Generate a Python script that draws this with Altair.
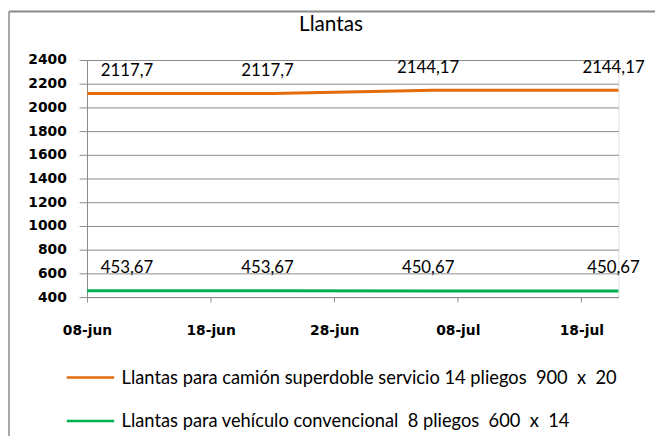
import altair as alt
import pandas as pd

# ---- data ----
fechas = ["2012-06-08T00:00", "2012-06-23T00:00", "2012-07-06T00:00", "2012-07-21T00:00"]
serie_camion = [2117.7, 2117.7, 2144.17, 2144.17]
serie_vehiculo = [453.67, 453.67, 450.67, 450.67]
etiquetas_camion = ["2117,7", "2117,7", "2144,17", "2144,17"]
etiquetas_vehiculo = ["453,67", "453,67", "450,67", "450,67"]
nombres = [
    "Llantas para camión superdoble servicio 14 pliegos\u00a0 900\u00a0 x\u00a0 20",
    "Llantas para vehículo convencional\u00a0 8 pliegos\u00a0 600\u00a0 x\u00a0 14",
]
colores = ["#E46C0A", "#00B050"]
y_ticks = [400, 600, 800, 1000, 1200, 1400, 1600, 1800, 2000, 2200, 2400]
x_ticks = [(2012, 6, 8), (2012, 6, 18), (2012, 6, 28), (2012, 7, 8), (2012, 7, 18)]
x_dominio = [(2012, 6, 8), (2012, 7, 21)]
titulo = "Llantas"

rows = []
for nombre, valores, etiquetas in [
    (nombres[0], serie_camion, etiquetas_camion),
    (nombres[1], serie_vehiculo, etiquetas_vehiculo),
]:
    for i, (f, v, e) in enumerate(zip(fechas, valores, etiquetas)):
        rows.append({"fecha": f, "valor": v, "etiqueta": e, "serie": nombre, "orden": i})
df = pd.DataFrame(rows)


def dt(t):
    return alt.DateTime(year=t[0], month=t[1], date=t[2])


GRIS = "#8a8a8a"
label_expr = ("timeFormat(datum.value, '%d') + '-' + "
              "['ene','feb','mar','abr','may','jun','jul','ago','sep','oct','nov','dic'][month(datum.value)]")

x_axis = alt.Axis(
    values=[dt(t) for t in x_ticks], labelExpr=label_expr, title=None, grid=False,
    domainColor=GRIS, tickColor=GRIS, tickSize=5, labelPadding=22, labelOverlap=False,
    labelFlush=False,
    labelFont="DejaVu Sans", labelFontSize=14, labelFontWeight="bold", labelColor="#000000",
)
y_axis = alt.Axis(
    values=y_ticks, format="d", title=None, grid=True, gridColor=GRIS, domainColor=GRIS,
    tickColor=GRIS, tickSize=8, labelPadding=13, labelOverlap=False,
    labelFont="DejaVu Sans", labelFontSize=14, labelFontWeight="bold", labelColor="#000000",
)
x_enc = alt.X("fecha:T", scale=alt.Scale(domain=[dt(t) for t in x_dominio]), axis=x_axis)
y_enc = alt.Y("valor:Q", scale=alt.Scale(domain=[400, 2400], nice=False), axis=y_axis)
color_enc = alt.Color(
    "serie:N",
    scale=alt.Scale(domain=nombres, range=colores),
    legend=alt.Legend(
        title=None, orient="none", legendX=-22, legendY=296, direction="vertical",
        symbolType="stroke", symbolSize=2304, symbolStrokeWidth=2.5, labelOffset=6,
        labelFont="Lato", labelFontSize=18.5, labelColor="#000000", labelLimit=0, rowPadding=9,
    ),
)

base = alt.Chart(df)
lineas = base.mark_line(strokeWidth=3, strokeCap="butt").encode(x=x_enc, y=y_enc, color=color_enc)

txt_style = dict(font="Lato", fontSize=17, color="#000000", baseline="alphabetic", dy=-18)
texto_primero = base.transform_filter("datum.orden == 0").mark_text(
    align="left", dx=14, **txt_style
).encode(x=x_enc, y=y_enc, text="etiqueta:N")
texto_resto = base.transform_filter("datum.orden > 0").mark_text(
    align="center", dx=-5, **txt_style
).encode(x=x_enc, y=y_enc, text="etiqueta:N")

# outer chart frame (top and left edges, as in the reference)
marco_sup = alt.Chart(alt.Data(values=[{}])).mark_rule(color=GRIS, strokeWidth=2).encode(
    x=alt.value(-79), x2=alt.value(700), y=alt.value(-49)
)
marco_izq = alt.Chart(alt.Data(values=[{}])).mark_rule(color=GRIS, strokeWidth=1.5).encode(
    x=alt.value(-79), y=alt.value(-49), y2=alt.value(400)
)

chart = (
    alt.layer(marco_sup, marco_izq, lineas, texto_primero, texto_resto)
    .properties(
        width=538, height=240,
        title=alt.TitleParams(titulo, font="Lato", fontSize=21, fontWeight="normal",
                              color="#000000", anchor="middle", frame="group", dx=-22,
                              offset=-42, baseline="alphabetic"),
        autosize=alt.AutoSizeParams(type="none"),
        padding={"left": 80, "top": 50, "right": 37, "bottom": 138},
    )
    .configure_view(stroke=None)
    .configure(background="#ffffff")
)

chart.save("out.html", embed_options={"renderer": "svg", "actions": False})
